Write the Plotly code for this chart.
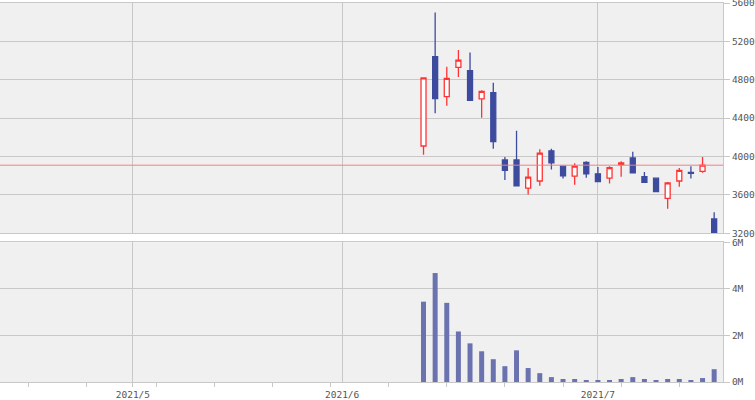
import pandas as pd
import plotly.graph_objects as go

# ---------------- data ----------------
dates = ["2021-06-10", "2021-06-11", "2021-06-14", "2021-06-15", "2021-06-16",
         "2021-06-17", "2021-06-18", "2021-06-21", "2021-06-22", "2021-06-23",
         "2021-06-24", "2021-06-25", "2021-06-28", "2021-06-29", "2021-06-30",
         "2021-07-01", "2021-07-02", "2021-07-05", "2021-07-06", "2021-07-07",
         "2021-07-08", "2021-07-09", "2021-07-12", "2021-07-13", "2021-07-14",
         "2021-07-15"]
opens = [4110, 5040, 4625, 4930, 4895, 4600, 4665, 3965, 3965, 3670,
         3745, 4060, 3900, 3795, 3940, 3820, 3775, 3915, 3985, 3790,
         3775, 3565, 3745, 3835, 3845, 3350]
highs = [4820, 5500, 4935, 5110, 5085, 4690, 4770, 3995, 4270, 3880,
         4075, 4080, 3900, 3930, 3950, 3890, 3900, 3950, 4050, 3840,
         3775, 3735, 3880, 3900, 3995, 3420]
lows = [4020, 4450, 4530, 4830, 4585, 4405, 4080, 3755, 3695, 3605,
        3695, 3865, 3770, 3705, 3780, 3740, 3720, 3790, 3830, 3730,
        3635, 3455, 3685, 3770, 3830, 3200]
closes = [4820, 4605, 4815, 5005, 4585, 4680, 4155, 3855, 3695, 3785,
          4035, 3935, 3800, 3900, 3820, 3740, 3885, 3935, 3830, 3730,
          3635, 3725, 3855, 3825, 3910, 3200]
volumes = [3450000, 4680000, 3400000, 2170000, 1660000, 1320000, 980000, 680000,
           1360000, 600000, 380000, 210000, 130000, 130000, 85000, 85000, 85000,
           130000, 210000, 130000, 85000, 130000, 130000, 85000, 170000, 550000]
ref_price = 3910

price_ticks = [3200, 3600, 4000, 4400, 4800, 5200, 5600]
volume_ticks = [0, 2000000, 4000000, 6000000]
volume_tick_labels = ["0M", "2M", "4M", "6M"]
month_starts = ["2021-05-06", "2021-06-01", "2021-07-01"]
month_labels = ["2021/5", "2021/6", "2021/7"]
holidays = ["2021-04-29", "2021-05-03", "2021-05-04", "2021-05-05",
            "2021-07-22", "2021-07-23"]

# ---------------- trading-day scale ----------------
cal = [d for d in pd.bdate_range("2021-04-01", "2021-08-31")
       if d.strftime("%Y-%m-%d") not in holidays]
pos = {d.strftime("%Y-%m-%d"): i for i, d in enumerate(cal)}
x = [pos[d] for d in dates]
anchor = pos["2021-06-01"]
x_range = [anchor - 29.43, anchor + 32.76]

week_starts = []
prev_week = None
for d in cal:
    wk = d.isocalendar()[:2]
    if wk != prev_week:
        week_starts.append(pos[d.strftime("%Y-%m-%d")])
        prev_week = wk
week_starts = [w for w in week_starts if x_range[0] <= w <= x_range[1]]
month_pos = [pos[m] for m in month_starts]

GRID = "#c8c8c8"
TXT = "#555555"
FONT = dict(family="DejaVu Sans Mono", size=9.5, color=TXT)
UP = "#ff3333"
DOWN = "#3d4b9f"

fig = go.Figure()
fig.add_trace(go.Candlestick(
    x=x, open=opens, high=highs, low=lows, close=closes,
    increasing=dict(line=dict(color=UP, width=1.3), fillcolor="#ffffff"),
    decreasing=dict(line=dict(color=DOWN, width=1.3), fillcolor=DOWN),
    whiskerwidth=0, xaxis="x", yaxis="y", showlegend=False,
))
fig.add_trace(go.Bar(
    x=x, y=volumes, marker=dict(color="#6a73b0", line=dict(width=0)),
    xaxis="x2", yaxis="y2", showlegend=False,
))
fig.add_shape(type="line", xref="x domain", yref="y", x0=0, x1=1,
              y0=ref_price, y1=ref_price, line=dict(color="#f08080", width=1))

fig.update_layout(
    template="none",
    width=755, height=400,
    margin=dict(l=0, r=32, t=3, b=18),
    paper_bgcolor="#ffffff", plot_bgcolor="#f0f0f0",
    font=FONT,
    boxgap=0.57, boxgroupgap=0, bargap=0.57,
    xaxis=dict(domain=[0, 1], anchor="y", range=x_range, matches="x2",
               rangeslider=dict(visible=False),
               tickmode="array", tickvals=month_pos, showticklabels=False,
               ticks="", showgrid=True, gridcolor=GRID, gridwidth=1,
               showline=True, linecolor=GRID, linewidth=1, mirror=True,
               zeroline=False, automargin=False),
    yaxis=dict(domain=[0.3923, 1], anchor="x", side="right", range=[3200, 5600],
               tickmode="array", tickvals=price_ticks, ticklabeloverflow="allow",
               ticks="outside", ticklen=6, tickcolor=GRID, tickwidth=1,
               showgrid=True, gridcolor=GRID, gridwidth=1,
               showline=True, linecolor=GRID, linewidth=1,
               zeroline=False, automargin=False, tickfont=FONT),
    xaxis2=dict(domain=[0, 1], anchor="y2", range=x_range,
                tickmode="array", tickvals=month_pos, ticktext=month_labels,
                ticks="outside", ticklen=4, tickcolor="rgba(0,0,0,0)",
                minor=dict(tickmode="array", tickvals=week_starts, ticks="outside",
                           ticklen=4, tickcolor=GRID, tickwidth=1, showgrid=False),
                showgrid=True, gridcolor=GRID, gridwidth=1,
                showline=True, linecolor=GRID, linewidth=1, mirror=True,
                zeroline=False, automargin=False, tickfont=FONT),
    yaxis2=dict(domain=[0, 0.3686], anchor="x2", side="right", range=[0, 6000000],
                tickmode="array", tickvals=volume_ticks, ticktext=volume_tick_labels,
                ticklabeloverflow="allow",
                ticks="outside", ticklen=6, tickcolor=GRID, tickwidth=1,
                showgrid=True, gridcolor=GRID, gridwidth=1,
                showline=True, linecolor=GRID, linewidth=1,
                zeroline=False, automargin=False, tickfont=FONT),
)

fig.write_html("out.html", config={"displayModeBar": False},
               post_script="document.body.style.margin='0';document.body.style.padding='0';")
